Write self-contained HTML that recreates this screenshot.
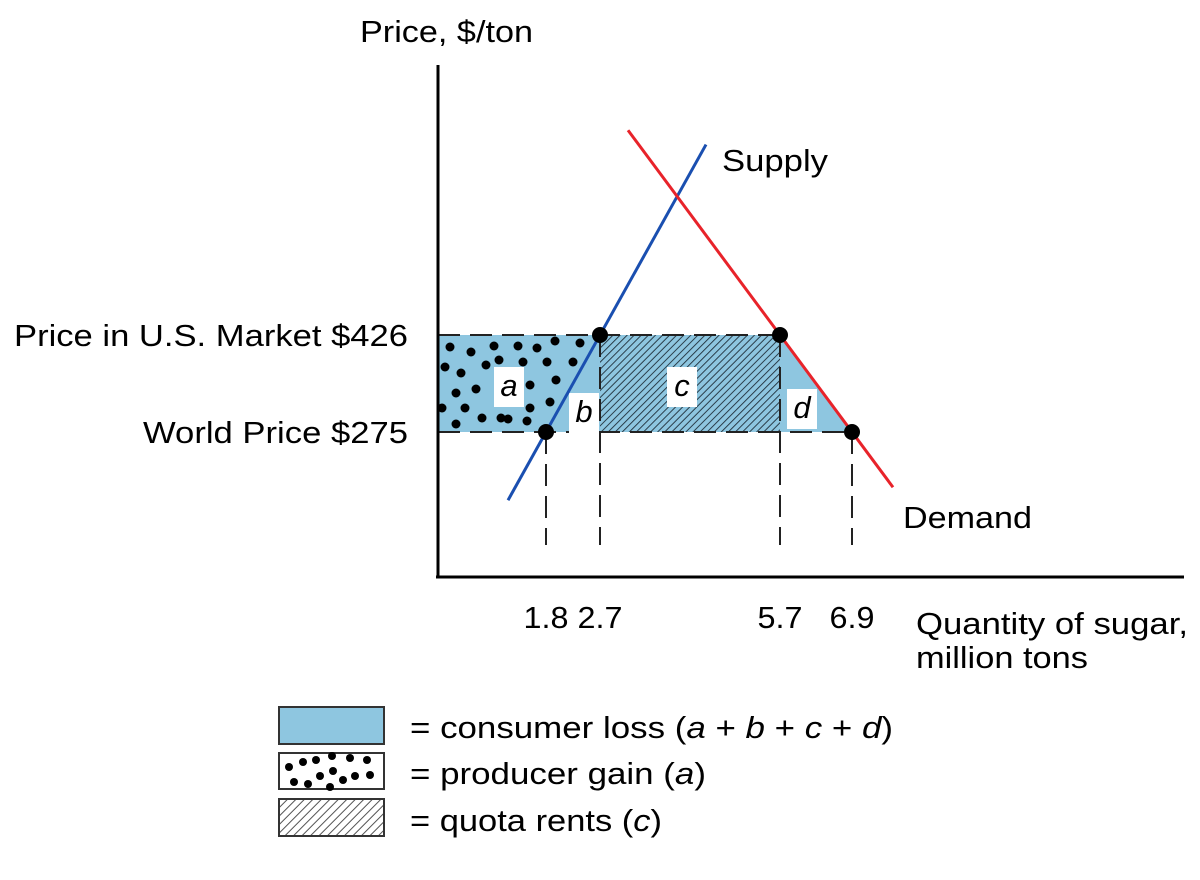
<!DOCTYPE html>
<html><head><meta charset="utf-8"><style>
body{margin:0;background:#fff;}
svg{display:block;font-family:"Liberation Sans",Arial,sans-serif;}
</style></head><body>
<svg id="chart" width="1200" height="880">
<defs>
<pattern id="hatch" width="5" height="5" patternUnits="userSpaceOnUse" patternTransform="rotate(45)">
<rect width="5" height="5" fill="#8ec6e0"/><line x1="0" y1="0" x2="0" y2="5" stroke="#1f2f3a" stroke-width="1.8"/>
</pattern>
<pattern id="hatchLeg" width="6" height="6" patternUnits="userSpaceOnUse" patternTransform="rotate(45)">
<rect width="6" height="6" fill="#fff"/><line x1="0" y1="0" x2="0" y2="6" stroke="#555" stroke-width="2"/>
</pattern>
<clipPath id="aClip"><path id="aClipPath"/></clipPath>
</defs>
<g id="plot"></g>
<g>
<rect x="279" y="707" width="105" height="37" fill="#8ec6e0" stroke="#333" stroke-width="2"/>
<text x="410" y="738" font-size="31" textLength="483" lengthAdjust="spacingAndGlyphs">= consumer loss (<tspan font-style="italic">a</tspan> + <tspan font-style="italic">b</tspan> + <tspan font-style="italic">c</tspan> + <tspan font-style="italic">d</tspan>)</text>
<rect x="279" y="753" width="105" height="36" fill="#fff" stroke="#333" stroke-width="2"/>
<g fill="#000">
<circle cx="289" cy="767" r="4"/><circle cx="303" cy="762" r="4"/><circle cx="316" cy="760" r="4"/><circle cx="332" cy="756" r="4"/><circle cx="350" cy="758" r="4"/><circle cx="294" cy="782" r="4"/><circle cx="308" cy="784" r="4"/><circle cx="320" cy="776" r="4"/><circle cx="333" cy="771" r="4"/><circle cx="343" cy="780" r="4"/><circle cx="355" cy="776" r="4"/><circle cx="370" cy="775" r="4"/><circle cx="367" cy="760" r="4"/><circle cx="330" cy="787" r="4"/>
</g>
<text x="410" y="784" font-size="31" textLength="296" lengthAdjust="spacingAndGlyphs">= producer gain (<tspan font-style="italic">a</tspan>)</text>
<rect x="279" y="799" width="105" height="37" fill="url(#hatchLeg)" stroke="#333" stroke-width="2"/>
<text x="410" y="831" font-size="31" textLength="252" lengthAdjust="spacingAndGlyphs">= quota rents (<tspan font-style="italic">c</tspan>)</text>
</g>
</svg>
<script>
const quantities=[1.8,2.7,5.7,6.9];
const prices=[275,426];
const supplyQ=[1.167,4.467];
const demandQ=[3.167,7.583];
const priceLabels=["World Price $275","Price in U.S. Market $426"];

const NS="http://www.w3.org/2000/svg";
const g=document.getElementById('plot');
const X=q=>438+60*q;
const Y=p=>432-(p-275)*(97/151);
const supP=q=>275+(q-quantities[0])*(prices[1]-prices[0])/(quantities[1]-quantities[0]);
const demP=q=>426+(q-quantities[2])*(prices[0]-prices[1])/(quantities[3]-quantities[2]);
function mk(tag,attrs,name,parent){const e=document.createElementNS(NS,tag);for(const k in attrs)e.setAttribute(k,attrs[k]);


(parent||g).appendChild(e);return e;}
function txt(x,y,s,len,name,extra){const a=Object.assign({x:x,y:y,'font-size':31,textLength:len,lengthAdjust:'spacingAndGlyphs'},extra||{});const t=mk('text',a,name);t.textContent=s;return t;}
const yT=Y(prices[1]),yB=Y(prices[0]);
mk('polygon',{points:`438,${yT} ${X(quantities[2])},${yT} ${X(quantities[3])},${yB} 438,${yB}`,fill:'#8ec6e0'},'consumer-loss-area');
mk('rect',{x:X(quantities[1]),y:yT,width:X(quantities[2])-X(quantities[1]),height:yB-yT,fill:'url(#hatch)'},'quota-rents-area');
document.getElementById('aClipPath').setAttribute('d',`M438,${yT} L${X(quantities[1])},${yT} L${X(quantities[0])},${yB} L438,${yB}Z`);
const dg=mk('g',{'clip-path':'url(#aClip)',fill:'#000'},'producer-gain-dots');
const dots=[[450,347],[471,352],[494,346],[518,346],[537,348],[555,341],[580,343],[445,367],[461,373],[486,365],[499,360],[523,362],[547,362],[573,362],[456,393],[476,389],[499,382],[530,385],[556,380],[442,408],[465,408],[482,418],[508,419],[530,408],[550,402],[456,424],[501,418],[527,421]];
dots.forEach(d=>mk('circle',{cx:d[0],cy:d[1],r:4.5},'dot',dg));
const dash={stroke:'#222','stroke-width':2,'stroke-dasharray':'22,10',fill:'none'};
mk('line',Object.assign({x1:438,y1:yT,x2:X(quantities[2]),y2:yT},dash),'us-price-dashed-line');
mk('line',Object.assign({x1:438,y1:yB,x2:X(quantities[3]),y2:yB},dash),'world-price-dashed-line');
quantities.forEach((q,i)=>{const top=(i==0||i==3)?yB:yT;
mk('line',Object.assign({x1:X(q),y1:top,x2:X(q),y2:545},dash),'quantity-dashed-line-'+q);
txt(X(q),628,String(q),45,'x-tick-label-'+q,{'text-anchor':'middle'});});
[['a',509,388],['b',584,414],['c',682,388],['d',802,410]].forEach(l=>{
mk('rect',{x:l[1]-15,y:l[2]-21,width:30,height:40,fill:'#fff'},'area-label-box-'+l[0]);
const t=mk('text',{x:l[1],y:l[2]+8,'font-size':31,'font-style':'italic','text-anchor':'middle'},'area-label-'+l[0]);t.textContent=l[0];});
mk('line',{x1:X(supplyQ[0]),y1:Y(supP(supplyQ[0])),x2:X(supplyQ[1]),y2:Y(supP(supplyQ[1])),stroke:'#1a4fb0','stroke-width':3},'supply-line');
mk('line',{x1:X(demandQ[0]),y1:Y(demP(demandQ[0])),x2:X(demandQ[1]),y2:Y(demP(demandQ[1])),stroke:'#e8232a','stroke-width':3},'demand-line');
[[quantities[0],prices[0]],[quantities[1],prices[1]],[quantities[2],prices[1]],[quantities[3],prices[0]]].forEach((p,i)=>
mk('circle',{cx:X(p[0]),cy:Y(p[1]),r:8,fill:'#000'},'point-'+i));
mk('line',{x1:438,y1:65,x2:438,y2:578,stroke:'#000','stroke-width':3},'y-axis');
mk('line',{x1:436,y1:577,x2:1184,y2:577,stroke:'#000','stroke-width':3},'x-axis');
const plen=[265,394];
prices.forEach((p,i)=>txt(408-plen[i],Y(p)+11,priceLabels[i],plen[i],'y-tick-label-'+p));
txt(360,42,'Price, $/ton',173,'y-axis-title');
txt(916,634,'Quantity of sugar,',272,'x-axis-title');
txt(916,668,'million tons',172,'x-axis-title-line2');
txt(722,171,'Supply',106,'supply-label');
txt(903,528,'Demand',129,'demand-label');
</script>
</body></html>
